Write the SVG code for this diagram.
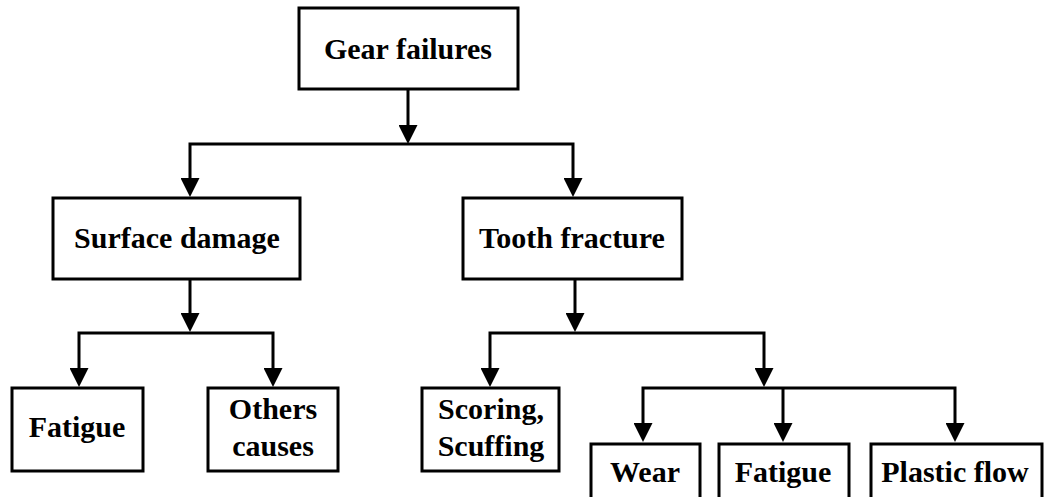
<svg xmlns="http://www.w3.org/2000/svg" width="1044" height="497" viewBox="0 0 1044 497">
<style>
.box{fill:#fff;stroke:#000;stroke-width:3}
text{font-family:'Liberation Serif',serif;font-weight:700;font-size:30px;fill:#000;text-anchor:middle}
.con{fill:none;stroke:#000;stroke-width:3;marker-end:url(#arr)}
</style>
<defs>
<marker id="arr" markerUnits="userSpaceOnUse" markerWidth="19" markerHeight="19" viewBox="0 0 19 19" refX="9" refY="9.5" orient="auto">
<path d="M0,0 L19,9.5 L0,19 z" fill="#000"/>
</marker>
</defs>
<rect width="1044" height="497" fill="#fff"/>
<g id="connectors">
<path class="con" d="M408,89 V134"/>
<path class="con" d="M408,144 H190 V187"/>
<path class="con" d="M408,144 H573 V187"/>
<path class="con" d="M190,279 V322"/>
<path class="con" d="M190,333 H79 V377"/>
<path class="con" d="M190,333 H273 V377"/>
<path class="con" d="M575,279 V322"/>
<path class="con" d="M575,333 H490 V377"/>
<path class="con" d="M575,333 H764 V377"/>
<path class="con" d="M764,388 H643 V432"/>
<path class="con" d="M764,388 H955 V432"/>
<path class="con" d="M783,388 V432"/>
</g>
<g id="gear-failures">
<rect class="box" x="299" y="8" width="219" height="81"/>
<text x="408" y="59">Gear failures</text>
</g>
<g id="surface-damage">
<rect class="box" x="53" y="198" width="247" height="81"/>
<text x="177" y="248">Surface damage</text>
</g>
<g id="tooth-fracture">
<rect class="box" x="463" y="198" width="219" height="81"/>
<text x="572" y="248">Tooth fracture</text>
</g>
<g id="fatigue-surface">
<rect class="box" x="12" y="388" width="131" height="83"/>
<text x="77" y="437">Fatigue</text>
</g>
<g id="others-causes">
<rect class="box" x="208" y="388" width="130" height="83"/>
<text x="273" y="419">Others</text>
<text x="273" y="456">causes</text>
</g>
<g id="scoring-scuffing">
<rect class="box" x="422" y="388" width="137" height="83"/>
<text x="491" y="419">Scoring,</text>
<text x="491" y="456">Scuffing</text>
</g>
<g id="wear">
<rect class="box" x="591" y="444" width="109" height="70"/>
<text x="645" y="482">Wear</text>
</g>
<g id="fatigue-tooth">
<rect class="box" x="719" y="444" width="130" height="70"/>
<text x="783" y="482">Fatigue</text>
</g>
<g id="plastic-flow">
<rect class="box" x="871" y="444" width="171" height="70"/>
<text x="955" y="482">Plastic flow</text>
</g>
</svg>
